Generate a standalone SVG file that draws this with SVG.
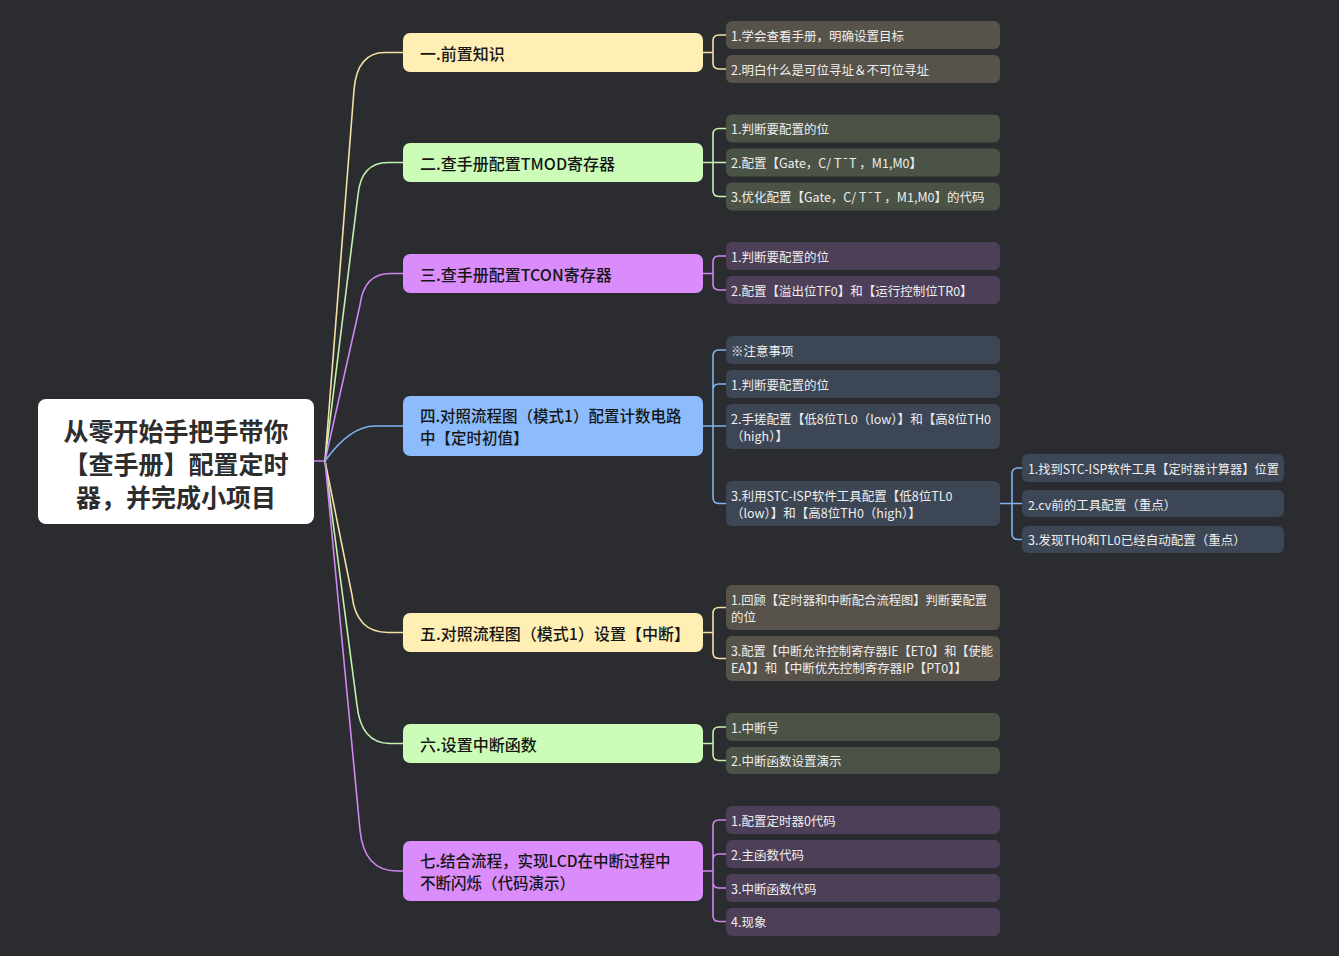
<svg xmlns="http://www.w3.org/2000/svg" width="1339" height="956" viewBox="0 0 1339 956">
<style>
text{font-family:"Noto Sans CJK SC","Noto Sans",sans-serif;dominant-baseline:central}
.rt{font-size:25px;font-weight:700;fill:#2d2d2d;text-anchor:middle}
.bt{font-size:16px;font-weight:500;fill:#161616}
.bt2{font-size:15.5px;font-weight:500;fill:#161616}
.lt{font-size:12.5px;fill:#eeeeee}
.c{fill:none;stroke-width:1.6;stroke-linecap:round}
.y{stroke:#f3e1a4}.g{stroke:#c3f2ad}.p{stroke:#cf86f0}.b{stroke:#80b3f0}
.ly{fill:#57534a}.lg{fill:#4a5346}.lp{fill:#4d3f57}.lb{fill:#3d4654}
</style>
<rect width="1339" height="956" fill="#2b2c30"/>
<g id="connectors">
<path class="c p" d="M314 461 H325"/>
<path class="c y" d="M325 461 L354 90 Q357 52.5 385 52.5 H403"/>
<path class="c g" d="M325 461 L358 195 Q361 162.5 388 162.5 H403"/>
<path class="c p" d="M325 461 L360 305 Q364 273.5 390 273.5 H403"/>
<path class="c b" d="M325 461 Q350 426 375 426 H403"/>
<path class="c y" d="M325 461 L352 595 Q356 632.5 388 632.5 H403"/>
<path class="c g" d="M325 461 L357 705 Q361 743.5 390 743.5 H403"/>
<path class="c p" d="M325 461 L360 830 Q364 871 397 871 H403"/>
<path class="c y" d="M703 52.5 H713 V41 Q713 35 719 35 H726 M713 52.5 V63 Q713 69 719 69 H726"/>
<path class="c g" d="M703 162.5 H726 M713 162.5 V134.5 Q713 128.5 719 128.5 H726 M713 162.5 V190.5 Q713 196.5 719 196.5 H726"/>
<path class="c p" d="M703 273.5 H713 V262 Q713 256 719 256 H726 M713 273.5 V284 Q713 290 719 290 H726"/>
<path class="c b" d="M703 426 H726 M713 426 V356 Q713 350 719 350 H726 M713 390 Q713 384 719 384 H726 M713 426 V497.5 Q713 503.5 719 503.5 H726"/>
<path class="c y" d="M703 632.5 H713 V613.5 Q713 607.5 719 607.5 H726 M713 632.5 V652.5 Q713 658.5 719 658.5 H726"/>
<path class="c g" d="M703 743.5 H713 V733 Q713 727 719 727 H726 M713 743.5 V754.5 Q713 760.5 719 760.5 H726"/>
<path class="c p" d="M703 871 H713 V826 Q713 820 719 820 H726 M713 860 Q713 854 719 854 H726 M713 871 V882 Q713 888 719 888 H726 M713 882 V915.5 Q713 921.5 719 921.5 H726"/>
<path class="c b" d="M1000 503.5 H1022 M1012 503.5 V474 Q1012 468 1018 468 H1022 M1012 503.5 V533.5 Q1012 539.5 1018 539.5 H1022"/>
</g>
<g id="root">
<rect x="38" y="399" width="276" height="125" rx="8" fill="#ffffff"/>
<text class="rt" x="176" y="430">从零开始手把手带你</text>
<text class="rt" x="176" y="463">【查手册】配置定时</text>
<text class="rt" x="176" y="496">器，并完成小项目</text>
</g>
<g id="b1"><rect x="403" y="33" width="300" height="39" rx="7" fill="#ffefb5"/><text class="bt" x="420" y="52.5">一.前置知识</text></g>
<g id="b2"><rect x="403" y="143" width="300" height="39" rx="7" fill="#cbfdb8"/><text class="bt" x="420" y="162.5">二.查手册配置TMOD寄存器</text></g>
<g id="b3"><rect x="403" y="254" width="300" height="39" rx="7" fill="#da8cfb"/><text class="bt" x="420" y="273.5">三.查手册配置TCON寄存器</text></g>
<g id="b4"><rect x="403" y="396" width="300" height="60" rx="7" fill="#8cbcfb"/><text class="bt2" x="420" y="415">四.对照流程图（模式1）配置计数电路</text><text class="bt2" x="420" y="437">中【定时初值】</text></g>
<g id="b5"><rect x="403" y="613" width="300" height="39" rx="7" fill="#ffefb5"/><text class="bt" x="420" y="632.5">五.对照流程图（模式1）设置【中断】</text></g>
<g id="b6"><rect x="403" y="724" width="300" height="39" rx="7" fill="#cbfdb8"/><text class="bt" x="420" y="743.5">六.设置中断函数</text></g>
<g id="b7"><rect x="403" y="841" width="300" height="60" rx="7" fill="#da8cfb"/><text class="bt2" x="420" y="860">七.结合流程，实现LCD在中断过程中</text><text class="bt2" x="420" y="882">不断闪烁（代码演示）</text></g>

<g id="l1a"><rect class="ly" x="726" y="21" width="274" height="28" rx="6"/><text class="lt" x="731" y="35">1.学会查看手册，明确设置目标</text></g>
<g id="l1b"><rect class="ly" x="726" y="55" width="274" height="28" rx="6"/><text class="lt" x="731" y="69">2.明白什么是可位寻址＆不可位寻址</text></g>
<g id="l2a"><rect class="lg" x="726" y="114.5" width="274" height="28" rx="6"/><text class="lt" x="731" y="128.5">1.判断要配置的位</text></g>
<g id="l2b"><rect class="lg" x="726" y="148.5" width="274" height="28" rx="6"/><text class="lt" x="731" y="162.5">2.配置【Gate，C/ T¯T ，M1,M0】</text></g>
<g id="l2c"><rect class="lg" x="726" y="182.5" width="274" height="28" rx="6"/><text class="lt" x="731" y="196.5">3.优化配置【Gate，C/ T¯T ，M1,M0】的代码</text></g>
<g id="l3a"><rect class="lp" x="726" y="242" width="274" height="28" rx="6"/><text class="lt" x="731" y="256">1.判断要配置的位</text></g>
<g id="l3b"><rect class="lp" x="726" y="276" width="274" height="28" rx="6"/><text class="lt" x="731" y="290">2.配置【溢出位TF0】和【运行控制位TR0】</text></g>
<g id="l4a"><rect class="lb" x="726" y="336" width="274" height="28" rx="6"/><text class="lt" x="731" y="350">※注意事项</text></g>
<g id="l4b"><rect class="lb" x="726" y="370" width="274" height="28" rx="6"/><text class="lt" x="731" y="384">1.判断要配置的位</text></g>
<g id="l4c"><rect class="lb" x="726" y="404" width="274" height="45" rx="6"/><text class="lt" x="731" y="418" textLength="260" lengthAdjust="spacingAndGlyphs">2.手搓配置【低8位TL0（low）】和【高8位TH0</text><text class="lt" x="731" y="435">（high）】</text></g>
<g id="l4d"><rect class="lb" x="726" y="481" width="274" height="45" rx="6"/><text class="lt" x="731" y="495">3.利用STC-ISP软件工具配置【低8位TL0</text><text class="lt" x="731" y="512">（low）】和【高8位TH0（high）】</text></g>
<g id="l4d1"><rect class="lb" x="1022" y="454" width="262" height="28" rx="6"/><text class="lt" x="1028" y="468" textLength="251" lengthAdjust="spacingAndGlyphs">1.找到STC-ISP软件工具【定时器计算器】位置</text></g>
<g id="l4d2"><rect class="lb" x="1022" y="490" width="262" height="27" rx="6"/><text class="lt" x="1028" y="504">2.cv前的工具配置（重点）</text></g>
<g id="l4d3"><rect class="lb" x="1022" y="526" width="262" height="27" rx="6"/><text class="lt" x="1028" y="539.5">3.发现TH0和TL0已经自动配置（重点）</text></g>
<g id="l5a"><rect class="ly" x="726" y="585" width="274" height="45" rx="6"/><text class="lt" x="731" y="599" textLength="256" lengthAdjust="spacingAndGlyphs">1.回顾【定时器和中断配合流程图】判断要配置</text><text class="lt" x="731" y="616">的位</text></g>
<g id="l5b"><rect class="ly" x="726" y="636" width="274" height="45" rx="6"/><text class="lt" x="731" y="650" textLength="262" lengthAdjust="spacingAndGlyphs">3.配置【中断允许控制寄存器IE【ET0】和【使能</text><text class="lt" x="731" y="667">EA】】和【中断优先控制寄存器IP【PT0】】</text></g>
<g id="l6a"><rect class="lg" x="726" y="713" width="274" height="28" rx="6"/><text class="lt" x="731" y="727">1.中断号</text></g>
<g id="l6b"><rect class="lg" x="726" y="747" width="274" height="27" rx="6"/><text class="lt" x="731" y="760.5">2.中断函数设置演示</text></g>
<g id="l7a"><rect class="lp" x="726" y="806" width="274" height="28" rx="6"/><text class="lt" x="731" y="820">1.配置定时器0代码</text></g>
<g id="l7b"><rect class="lp" x="726" y="840" width="274" height="28" rx="6"/><text class="lt" x="731" y="854">2.主函数代码</text></g>
<g id="l7c"><rect class="lp" x="726" y="874" width="274" height="28" rx="6"/><text class="lt" x="731" y="888">3.中断函数代码</text></g>
<g id="l7d"><rect class="lp" x="726" y="908" width="274" height="28" rx="6"/><text class="lt" x="731" y="921.5">4.现象</text></g>
</svg>
